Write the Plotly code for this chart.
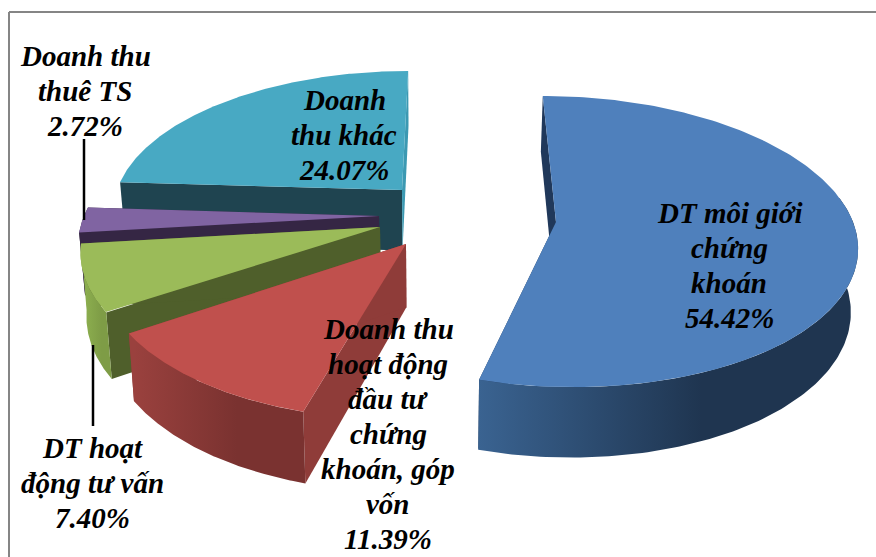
import numpy as np
import plotly.graph_objects as go

# ---- data ----
categories = ["DT môi giới chứng khoán",
              "Doanh thu hoạt động đầu tư chứng khoán, góp vốn",
              "DT hoạt động tư vấn",
              "Doanh thu thuê TS",
              "Doanh thu khác"]
shares = [54.42, 11.39, 7.40, 2.72, 24.07]

wrapped_labels = [["DT môi giới", "chứng", "khoán"],
                  ["Doanh thu", "hoạt động", "đầu tư", "chứng", "khoán, góp", "vốn"],
                  ["DT hoạt", "động tư vấn"],
                  ["Doanh thu", "thuê TS"],
                  ["Doanh", "thu khác"]]

# ---- styling / view geometry (per slice: apex x, y, radius x, radius y, skew) ----
views = [(556, 222, 297, 143, -15),
         (406, 244, 302, 152, 7),
         (380, 227, 295, 145, 12),
         (379, 216, 295, 145, 20),
         (402, 190, 285, 135, 7)]
tops = ["#4f80bc", "#c0504d", "#9bbb59", "#8064a2", "#48a9c3"]
cuts_start = ["#20385a", "#8f3c39", "#4f5f2b", "#352644", "#1f4450"]
cuts_end = ["#20385a", "#8f3c39", "#4f5f2b", "#352644", "#3c99b2"]
bands = [("#3a6391", "#1f3550"), ("#9a413e", "#7a3230"), ("#8bad4e", "#7e9c46"),
         ("#352644", "#352644"), None]
# centre x and first-line y of every label
label_pos = [(729, 213), (388, 329), (92, 448), (85, 56), (344, 100)]
LINE_GAP = 35
K = 0.134


def project(theta, view):
    ax, ay, b, a, s = view
    X, Y = np.sin(theta), np.cos(theta)
    den = 1 + K * Y
    return ax + (b * X + s * Y) / den, ay - a * Y / den


def lower(x, y):
    return 430 + (np.asarray(x) - 430) * 0.983, np.asarray(y) + 70 + 0.05 * (np.asarray(y) - 380)


fig = go.Figure()


def poly(x, y, color=None, grad=None):
    kw = dict(x=list(x), y=list(y), mode="lines", fill="toself", line=dict(width=0),
              hoverinfo="skip", showlegend=False)
    if grad:
        kw["fillgradient"] = dict(type="horizontal", colorscale=[[0, grad[0]], [1, grad[1]]],
                                  start=grad[2], stop=grad[3])
        kw["fillcolor"] = grad[0]
    else:
        kw["fillcolor"] = color
    fig.add_trace(go.Scatter(**kw))


total = sum(shares)
edges = np.concatenate([[0], np.cumsum(shares)]) / total * 2 * np.pi

for i in [4, 3, 2, 1, 0]:
    view = views[i]
    t0, t1 = edges[i], edges[i + 1]
    apex = (float(view[0]), float(view[1]))
    lax, lay = lower(apex[0], apex[1])
    # cut faces
    for t, col in ((t0, cuts_start[i]), (t1, cuts_end[i])):
        rx, ry = project(t, view)
        lrx, lry = lower(rx, ry)
        poly([apex[0], rx, lrx, lax, apex[0]], [apex[1], ry, lry, lay, apex[1]], color=col)
    # outer side band on the front part
    a0, a1 = max(t0, np.radians(80)), min(t1, np.radians(280))
    if bands[i] and a1 > a0:
        th = np.linspace(a0, a1, 120)
        x, y = project(th, view)
        lx, ly = lower(x, y)
        bx = np.concatenate([x, lx[::-1], x[:1]])
        by = np.concatenate([y, ly[::-1], y[:1]])
        poly(bx, by, grad=(bands[i][0], bands[i][1], float(lx.min()),
                           float(lx.min() + (lx.max() - lx.min()) * 0.6)))
    # top face
    th = np.linspace(t0, t1, 200)
    x, y = project(th, view)
    poly(np.concatenate([[apex[0]], x, [apex[0]]]), np.concatenate([[apex[1]], y, [apex[1]]]), color=tops[i])

annotations = []
for i, (lines, pos) in enumerate(zip(wrapped_labels, label_pos)):
    for j, line in enumerate(lines + [f"{shares[i]:.2f}%"]):
        annotations.append(dict(
            x=pos[0], y=pos[1] + j * LINE_GAP, xref="x", yref="y", showarrow=False, align="center",
            text=line,
            font=dict(family="Liberation Serif", size=29, color="black", style="italic", weight="bold"),
        ))

shapes = [
    dict(type="line", x0=9, x1=876, y0=12, y1=12, line=dict(color="#858585", width=2)),
    dict(type="line", x0=9, x1=9, y0=12, y1=557, line=dict(color="#858585", width=2)),
    dict(type="line", x0=84, x1=84, y0=139, y1=220, line=dict(color="black", width=2.5)),
    dict(type="line", x0=93, x1=93, y0=345, y1=426, line=dict(color="black", width=2.5)),
]

fig.update_layout(
    width=876, height=557, autosize=False,
    margin=dict(l=0, r=0, t=0, b=0),
    paper_bgcolor="white", plot_bgcolor="white",
    xaxis=dict(range=[0, 876], visible=False, fixedrange=True),
    yaxis=dict(range=[557, 0], visible=False, fixedrange=True),
    annotations=annotations, shapes=shapes, showlegend=False,
)
fig.write_html("out.html", config={"displayModeBar": False},
               post_script="document.body.style.margin='0';document.body.style.overflow='hidden';")
